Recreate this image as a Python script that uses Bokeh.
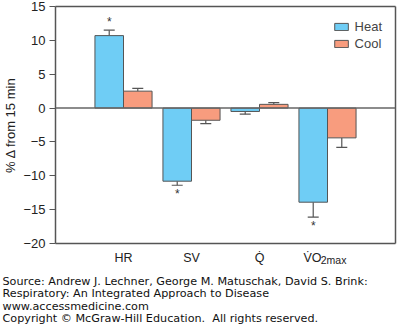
from bokeh.plotting import figure
from bokeh.models import (ColumnDataSource, FixedTicker, Legend, LegendItem,
                          Range1d, Span, Title, LinearAxis)
from bokeh.embed import file_html
from bokeh.resources import INLINE

# ---- data ----
categories = ["HR", "SV", "Q\u0307", "V\u0307O"]
subscripts = ["", "", "", "2max"]
heat = [10.7, -10.8, -0.5, -13.9]
heat_err = [0.8, 0.6, 0.4, 2.2]
cool = [2.5, -1.8, 0.55, -4.4]
cool_err = [0.4, 0.5, 0.25, 1.4]
heat_sig = [True, True, False, True]
y_ticks = [-20, -15, -10, -5, 0, 5, 10, 15]
source_lines = [
    "Source: Andrew J. Lechner, George M. Matuschak, David S. Brink:",
    "Respiratory: An Integrated Approach to Disease",
    "www.accessmedicine.com",
    "Copyright \u00a9 McGraw-Hill Education.\u00a0 All rights reserved.",
]

HEAT_C = "#6FCDF5"
COOL_C = "#F89C7E"
EDGE = "#555555"
FONT = "Liberation Sans"

xc = [i + 1 for i in range(len(categories))]
bw = 0.42


def err_end(v, e):
    return v + e if v >= 0 else v - e


heat_x = [c - bw / 2 for c in xc]
cool_x = [c + bw / 2 for c in xc]
heat_end = [err_end(v, e) for v, e in zip(heat, heat_err)]
cool_end = [err_end(v, e) for v, e in zip(cool, cool_err)]

p = figure(width=397, height=329, output_backend="svg", toolbar_location=None,
           x_range=Range1d(0, 5), y_range=Range1d(-20, 15),
           min_border_left=55, min_border_right=2, min_border_top=6,
           min_border_bottom=86)
p.grid.visible = False
p.outline_line_color = None
p.background_fill_color = "white"
p.border_fill_color = "white"

ya = p.left[0]
xa = p.below[0]

# top and right frame lines as bare axes
for side in ("above", "right"):
    ax = LinearAxis(ticker=FixedTicker(ticks=[]), axis_line_color=EDGE, axis_line_width=1.5,
                    major_tick_line_color=None, minor_tick_line_color=None,
                    major_tick_out=0, minor_tick_out=0, major_label_standoff=0,
                    major_label_text_font_size="0px")
    p.add_layout(ax, side)

# zero line
p.add_layout(Span(location=0, dimension="width", line_color="#666666", line_width=1.5))

hsrc = ColumnDataSource(dict(x=heat_x, top=heat, end=heat_end))
csrc = ColumnDataSource(dict(x=cool_x, top=cool, end=cool_end))

# error bars (one-sided)
for src in (hsrc, csrc):
    p.segment(x0="x", y0="top", x1="x", y1="end", source=src, line_color=EDGE, line_width=1.2)
    p.scatter(x="x", y="end", source=src, marker="dash", size=11, line_color=EDGE, line_width=1.2)

rh = p.vbar(x="x", top="top", bottom=0, width=bw, source=hsrc, fill_color=HEAT_C,
            line_color=EDGE, line_width=1)
rc = p.vbar(x="x", top="top", bottom=0, width=bw, source=csrc, fill_color=COOL_C,
            line_color=EDGE, line_width=1)

# significance stars
sx = [x for x, s in zip(heat_x, heat_sig) if s]
sy = [y for y, s in zip(heat_end, heat_sig) if s]
soff = [-8 if y >= 0 else 9 for y in sy]
p.text(x=sx, y=sy, text=["*"] * len(sx), y_offset=soff, text_align="center",
       text_baseline="middle", text_font_size="12px", text_color="#333333",
       text_font={"value": FONT})

# y axis
ya.ticker = FixedTicker(ticks=y_ticks)
ya.major_label_overrides = {t: (str(t).replace("-", "\u2212")) for t in y_ticks}
ya.major_label_text_font = FONT
ya.major_label_text_font_size = "13px"
ya.major_label_text_color = "#222222"
ya.major_label_standoff = 4
ya.major_tick_out = 6
ya.major_tick_in = 0
ya.minor_tick_line_color = None
ya.axis_line_color = EDGE
ya.axis_line_width = 1.5
ya.major_tick_line_color = EDGE
ya.major_tick_line_width = 1.2
ya.axis_label = "% \u0394 from 15 min"
ya.axis_label_text_font = FONT
ya.axis_label_text_font_size = "13px"
ya.axis_label_text_font_style = "normal"
ya.axis_label_text_color = "#222222"
ya.axis_label_standoff = 2

# x axis: category labels (main part); subscript shifts the main part left
main_pos = [c - (0.22 if s else 0) for c, s in zip(xc, subscripts)]
xa.ticker = FixedTicker(ticks=main_pos)
xa.major_label_overrides = {pos: lab for pos, lab in zip(main_pos, categories)}
xa.major_label_text_font = FONT
xa.major_label_text_font_size = "12.5px"
xa.major_label_text_color = "#222222"
xa.major_label_standoff = 7
xa.major_tick_out = 0
xa.major_tick_in = 0
xa.axis_line_color = EDGE
xa.axis_line_width = 1.5
xa.minor_tick_line_color = None
xa.major_tick_line_color = None

# second bottom axis carrying the subscripts, pulled up into the label row
sub_pos = [pos + 0.31 for pos, s in zip(main_pos, subscripts) if s]
sub_txt = [s for s in subscripts if s]
sub_ax = LinearAxis(ticker=FixedTicker(ticks=sub_pos),
                    major_label_overrides={pos: s for pos, s in zip(sub_pos, sub_txt)},
                    axis_line_color=None, major_tick_line_color=None,
                    minor_tick_line_color=None, major_tick_out=0, minor_tick_out=0,
                    major_label_standoff=-14, major_label_text_font=FONT,
                    major_label_text_font_size="10.5px", major_label_text_color="#222222")
p.add_layout(sub_ax, "below")

# source text
p.add_layout(Title(text="\n".join(source_lines), align="left", offset=-53,
                   text_font="DejaVu Sans", text_font_size="11.2px",
                   text_font_style="normal", text_color="#111111",
                   standoff=9, text_line_height=0.95), "below")

legend = Legend(items=[LegendItem(label="Heat", renderers=[rh]),
                       LegendItem(label="Cool", renderers=[rc])],
                location="top_right", border_line_color=None,
                background_fill_alpha=0, glyph_width=17, glyph_height=9,
                label_text_font=FONT, label_text_font_size="13px",
                label_standoff=5, spacing=2, padding=4, margin=13,
                label_height=15)
p.add_layout(legend)

open("out.html", "w").write(file_html(p, INLINE))
